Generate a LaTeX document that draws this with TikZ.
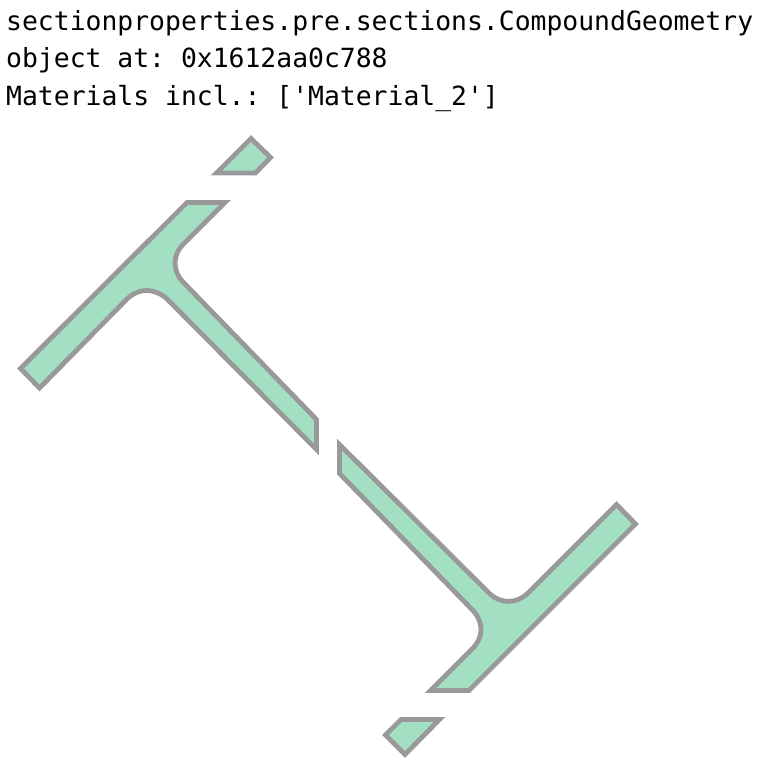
\documentclass[tikz,border=0pt]{standalone}
\usepackage{fontspec}
\setmainfont{DejaVu Sans Mono}
\definecolor{secfill}{HTML}{A3E0C3}
\definecolor{secline}{HTML}{999999}
\tikzset{
  part/.style={fill=secfill,draw=secline,line width=4.8pt,miter limit=10,line join=miter},
  label/.style={anchor=base west,inner sep=0pt,font=\fontsize{26.4pt}{30pt}\selectfont\frenchspacing}
}
\begin{document}
\begin{tikzpicture}[x=1pt,y=-1pt]
\useasboundingbox (0,0) rectangle (758,782);
\node[label] (t1) at (6,30) {sectionproperties.pre.sections.CompoundGeometry};
\node[label] (t2) at (6,67) {object at: 0x1612aa0c788};
\node[label] (t3) at (6,105) {Materials incl.: [\textquotesingle Material\_2\textquotesingle]};
% top fragment
\draw[part] (251,138.5) -- (270.5,157.5) -- (255.5,173) -- (216.5,173) -- cycle;
% upper part
\draw[part] (187,202.5) -- (225,202.5) -- (184,243.5)
  .. controls (172,255) and (172,271) .. (184,283)
  -- (316.5,419.5) -- (316.5,449.5) -- (166,298)
  .. controls (154,288) and (139,288) .. (128,298)
  -- (39.5,388) -- (20.5,368.5) -- cycle;
% lower part
\draw[part] (339.5,444.5) -- (339.5,473.5) -- (472,609.5)
  .. controls (484,621.5) and (484,637.5) .. (472,649)
  -- (430.5,690.5) -- (469,690.5) -- (635.5,524) -- (616.5,504.5) -- (528,593)
  .. controls (517,604) and (501,604) .. (490,594) -- cycle;
% bottom fragment
\draw[part] (401,719.5) -- (439.5,719.5) -- (405,754.5) -- (385.5,735) -- cycle;
\end{tikzpicture}
\end{document}
